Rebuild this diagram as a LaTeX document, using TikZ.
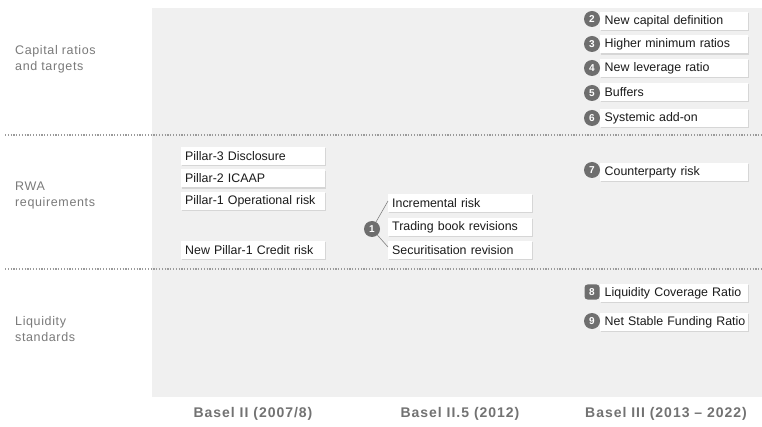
\documentclass[tikz,border=0pt]{standalone}
\usepackage{fontspec}
\setmainfont{Liberation Sans}
\newfontfamily\rowfont[LetterSpace=5]{Liberation Sans}
\newfontfamily\colfont[LetterSpace=7]{Liberation Sans}
\usetikzlibrary{shadows}
\definecolor{bgfill}{HTML}{F0F0F0}
\definecolor{badgegray}{HTML}{6E6E6E}
\definecolor{labelgray}{HTML}{7A7A7A}
\definecolor{collabgray}{HTML}{727272}
\definecolor{txtdark}{HTML}{1A1A1A}
\definecolor{sepgray}{HTML}{9A9A9A}
\tikzset{
  box/.style={fill=white, anchor=west, inner xsep=4pt, inner ysep=0pt,
    minimum height=18pt, text width=136pt, align=left, text=txtdark,
    font=\fontsize{12.4}{14}\selectfont,
    drop shadow={shadow xshift=1.2pt, shadow yshift=-1.2pt, fill=black!35, opacity=.35}},
  boxr/.style={box, inner xsep=4.5pt, text width=139pt},
  badge/.style={circle, fill=badgegray, text=white, minimum size=16pt, inner sep=0pt,
    font=\bfseries\fontsize{10}{10}\selectfont},
  sqbadge/.style={badge, rectangle, rounded corners=3pt, minimum size=15pt},
  rowlabel/.style={anchor=west, align=left, text=labelgray,
    font=\rowfont\fontsize{12.5}{16}\selectfont, inner sep=0pt},
  collabel/.style={text=collabgray, font=\colfont\bfseries\fontsize{14}{16}\selectfont, inner sep=0pt},
  sepline/.style={sepgray, line width=1.2pt, dash pattern=on 1.2pt off 1.6pt},
  bracket/.style={draw=black!50, line width=0.6pt}
}
\begin{document}
\begin{tikzpicture}[x=1pt,y=-1pt]
\useasboundingbox (0,0) rectangle (762,427);
\fill[white] (0,0) rectangle (762,427);
\fill[bgfill] (152,8) rectangle (762,397);

% separators
\coordinate (s1a) at (5,135); \coordinate (s1b) at (762,135);
\coordinate (s2a) at (5,269); \coordinate (s2b) at (762,269);
\draw[sepline] (s1a) -- (s1b);
\draw[sepline] (s2a) -- (s2b);

% row labels
\node[rowlabel] (lab1) at (15,59) {Capital ratios\\and targets};
\node[rowlabel] (lab2) at (15,195) {RWA\\requirements};
\node[rowlabel] (lab3) at (15,329) {Liquidity\\standards};

% column 1
\node[box] (p3) at (181,156) {Pillar-3 Disclosure};
\node[box] (p2) at (181,178.5) {Pillar-2 ICAAP};
\node[box] (p1) at (181,201) {Pillar-1 Operational risk};
\node[box] (p1c) at (181,250) {New Pillar-1 Credit risk};

% column 2
\node[box] (inc) at (388,203) {Incremental risk};
\node[box] (trb) at (388,227) {Trading book revisions};
\node[box] (sec) at (388,250) {Securitisation revision};
\node[badge] (c1) at (372,229) {1};
\draw[bracket] (c1) -- ([yshift=2pt]inc.west);
\draw[bracket] (c1) -- ([yshift=3pt]sec.west);

% column 3
\node[boxr] (b2) at (600,21) {New capital definition};
\node[boxr] (b3) at (600,44.5) {Higher minimum ratios};
\node[boxr] (b4) at (600,68) {New leverage ratio};
\node[boxr] (b5) at (600,92) {Buffers};
\node[boxr] (b6) at (600,118) {Systemic add-on};
\node[boxr] (b7) at (600,172) {Counterparty risk};
\node[boxr] (b8) at (600,293) {Liquidity Coverage Ratio};
\node[boxr] (b9) at (600,322) {\mbox{Net Stable Funding Ratio}};
\node[badge] (n2) at (592,19) {2};
\node[badge] (n3) at (592,44) {3};
\node[badge] (n4) at (592,68) {4};
\node[badge] (n5) at (592,93) {5};
\node[badge] (n6) at (592,118) {6};
\node[badge] (n7) at (592,170) {7};
\node[sqbadge] (n8) at (592,292) {8};
\node[badge] (n9) at (592,321) {9};

% column labels
\node[collabel] (col1) at (253,414) {Basel II (2007/8)};
\node[collabel] (col2) at (460,414) {Basel II.5 (2012)};
\node[collabel] (col3) at (666,414) {Basel III (2013 – 2022)};
\end{tikzpicture}
\end{document}
